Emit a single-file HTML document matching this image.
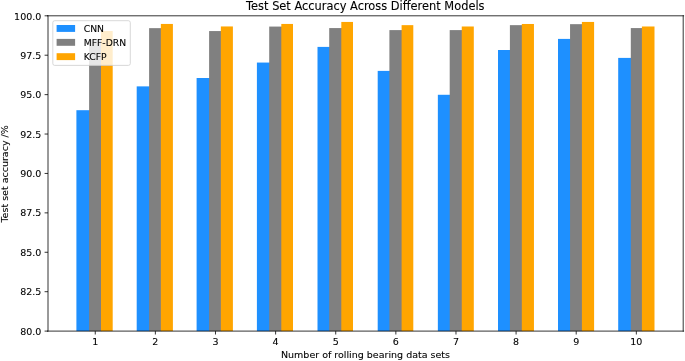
<!DOCTYPE html>
<html><head><meta charset="utf-8"><style>
html,body{margin:0;padding:0;background:#fff;}
body{width:685px;height:361px;overflow:hidden;}
svg{display:block;}
</style></head><body>
<svg width="685" height="361" viewBox="0 0 685 361">
<rect x="0" y="0" width="685" height="361" fill="#ffffff"/>
<rect x="76.40" y="110.20" width="13.70" height="220.90" fill="#1e90ff"/>
<rect x="136.70" y="86.38" width="13.40" height="244.72" fill="#1e90ff"/>
<rect x="196.60" y="78.00" width="13.50" height="253.10" fill="#1e90ff"/>
<rect x="256.90" y="62.56" width="13.30" height="268.54" fill="#1e90ff"/>
<rect x="317.50" y="46.90" width="12.70" height="284.20" fill="#1e90ff"/>
<rect x="377.70" y="70.90" width="12.70" height="260.20" fill="#1e90ff"/>
<rect x="437.85" y="94.78" width="12.85" height="236.32" fill="#1e90ff"/>
<rect x="498.00" y="50.00" width="12.90" height="281.10" fill="#1e90ff"/>
<rect x="558.00" y="38.90" width="13.05" height="292.20" fill="#1e90ff"/>
<rect x="618.20" y="57.90" width="13.60" height="273.20" fill="#1e90ff"/>
<rect x="89.10" y="39.40" width="12.90" height="291.70" fill="#808080"/>
<rect x="149.10" y="28.14" width="12.75" height="302.96" fill="#808080"/>
<rect x="209.10" y="31.06" width="12.75" height="300.04" fill="#808080"/>
<rect x="269.20" y="26.57" width="13.10" height="304.53" fill="#808080"/>
<rect x="329.20" y="28.07" width="13.10" height="303.03" fill="#808080"/>
<rect x="389.40" y="30.10" width="13.20" height="301.00" fill="#808080"/>
<rect x="449.70" y="30.10" width="13.05" height="301.00" fill="#808080"/>
<rect x="509.90" y="25.15" width="12.90" height="305.95" fill="#808080"/>
<rect x="570.05" y="24.16" width="12.85" height="306.94" fill="#808080"/>
<rect x="630.80" y="28.07" width="12.10" height="303.03" fill="#808080"/>
<rect x="101.00" y="31.00" width="11.70" height="300.10" fill="#ffa500"/>
<rect x="160.85" y="23.94" width="12.05" height="307.16" fill="#ffa500"/>
<rect x="220.85" y="26.45" width="12.05" height="304.65" fill="#ffa500"/>
<rect x="281.30" y="23.94" width="11.70" height="307.16" fill="#ffa500"/>
<rect x="341.30" y="21.94" width="11.70" height="309.16" fill="#ffa500"/>
<rect x="401.60" y="25.15" width="11.70" height="305.95" fill="#ffa500"/>
<rect x="461.75" y="26.49" width="12.05" height="304.61" fill="#ffa500"/>
<rect x="521.80" y="23.98" width="12.15" height="307.12" fill="#ffa500"/>
<rect x="581.90" y="21.94" width="12.20" height="309.16" fill="#ffa500"/>
<rect x="641.90" y="26.49" width="12.60" height="304.61" fill="#ffa500"/>
<path d="M48.00 331.10 V15.80 M683.20 331.10 V15.80 M47.60 331.10 H683.60 M47.60 15.80 H683.60" stroke="#000" stroke-width="0.8" fill="none" stroke-linecap="square"/>
<line x1="44.60" y1="331.10" x2="48.00" y2="331.10" stroke="#000" stroke-width="0.8"/>
<text x="41.3" y="334.70" text-anchor="end" font-family="DejaVu Sans, Liberation Sans, sans-serif" stroke="#000" stroke-width="0.2" stroke-opacity="0.45" font-size="9.5" fill="#000000">80.0</text>
<line x1="44.60" y1="291.69" x2="48.00" y2="291.69" stroke="#000" stroke-width="0.8"/>
<text x="41.3" y="295.29" text-anchor="end" font-family="DejaVu Sans, Liberation Sans, sans-serif" stroke="#000" stroke-width="0.2" stroke-opacity="0.45" font-size="9.5" fill="#000000">82.5</text>
<line x1="44.60" y1="252.28" x2="48.00" y2="252.28" stroke="#000" stroke-width="0.8"/>
<text x="41.3" y="255.88" text-anchor="end" font-family="DejaVu Sans, Liberation Sans, sans-serif" stroke="#000" stroke-width="0.2" stroke-opacity="0.45" font-size="9.5" fill="#000000">85.0</text>
<line x1="44.60" y1="212.86" x2="48.00" y2="212.86" stroke="#000" stroke-width="0.8"/>
<text x="41.3" y="216.46" text-anchor="end" font-family="DejaVu Sans, Liberation Sans, sans-serif" stroke="#000" stroke-width="0.2" stroke-opacity="0.45" font-size="9.5" fill="#000000">87.5</text>
<line x1="44.60" y1="173.45" x2="48.00" y2="173.45" stroke="#000" stroke-width="0.8"/>
<text x="41.3" y="177.05" text-anchor="end" font-family="DejaVu Sans, Liberation Sans, sans-serif" stroke="#000" stroke-width="0.2" stroke-opacity="0.45" font-size="9.5" fill="#000000">90.0</text>
<line x1="44.60" y1="134.04" x2="48.00" y2="134.04" stroke="#000" stroke-width="0.8"/>
<text x="41.3" y="137.64" text-anchor="end" font-family="DejaVu Sans, Liberation Sans, sans-serif" stroke="#000" stroke-width="0.2" stroke-opacity="0.45" font-size="9.5" fill="#000000">92.5</text>
<line x1="44.60" y1="94.63" x2="48.00" y2="94.63" stroke="#000" stroke-width="0.8"/>
<text x="41.3" y="98.23" text-anchor="end" font-family="DejaVu Sans, Liberation Sans, sans-serif" stroke="#000" stroke-width="0.2" stroke-opacity="0.45" font-size="9.5" fill="#000000">95.0</text>
<line x1="44.60" y1="55.21" x2="48.00" y2="55.21" stroke="#000" stroke-width="0.8"/>
<text x="41.3" y="58.81" text-anchor="end" font-family="DejaVu Sans, Liberation Sans, sans-serif" stroke="#000" stroke-width="0.2" stroke-opacity="0.45" font-size="9.5" fill="#000000">97.5</text>
<line x1="44.60" y1="15.80" x2="48.00" y2="15.80" stroke="#000" stroke-width="0.8"/>
<text x="41.3" y="20.20" text-anchor="end" font-family="DejaVu Sans, Liberation Sans, sans-serif" stroke="#000" stroke-width="0.2" stroke-opacity="0.45" font-size="9.5" fill="#000000">100.0</text>
<line x1="95.25" y1="331.10" x2="95.25" y2="334.50" stroke="#000" stroke-width="0.8"/>
<text x="95.25" y="344.9" text-anchor="middle" font-family="DejaVu Sans, Liberation Sans, sans-serif" stroke="#000" stroke-width="0.2" stroke-opacity="0.45" font-size="9.5" fill="#000000">1</text>
<line x1="155.37" y1="331.10" x2="155.37" y2="334.50" stroke="#000" stroke-width="0.8"/>
<text x="155.37" y="344.9" text-anchor="middle" font-family="DejaVu Sans, Liberation Sans, sans-serif" stroke="#000" stroke-width="0.2" stroke-opacity="0.45" font-size="9.5" fill="#000000">2</text>
<line x1="215.49" y1="331.10" x2="215.49" y2="334.50" stroke="#000" stroke-width="0.8"/>
<text x="215.49" y="344.9" text-anchor="middle" font-family="DejaVu Sans, Liberation Sans, sans-serif" stroke="#000" stroke-width="0.2" stroke-opacity="0.45" font-size="9.5" fill="#000000">3</text>
<line x1="275.61" y1="331.10" x2="275.61" y2="334.50" stroke="#000" stroke-width="0.8"/>
<text x="275.61" y="344.9" text-anchor="middle" font-family="DejaVu Sans, Liberation Sans, sans-serif" stroke="#000" stroke-width="0.2" stroke-opacity="0.45" font-size="9.5" fill="#000000">4</text>
<line x1="335.73" y1="331.10" x2="335.73" y2="334.50" stroke="#000" stroke-width="0.8"/>
<text x="335.73" y="344.9" text-anchor="middle" font-family="DejaVu Sans, Liberation Sans, sans-serif" stroke="#000" stroke-width="0.2" stroke-opacity="0.45" font-size="9.5" fill="#000000">5</text>
<line x1="395.85" y1="331.10" x2="395.85" y2="334.50" stroke="#000" stroke-width="0.8"/>
<text x="395.85" y="344.9" text-anchor="middle" font-family="DejaVu Sans, Liberation Sans, sans-serif" stroke="#000" stroke-width="0.2" stroke-opacity="0.45" font-size="9.5" fill="#000000">6</text>
<line x1="455.97" y1="331.10" x2="455.97" y2="334.50" stroke="#000" stroke-width="0.8"/>
<text x="455.97" y="344.9" text-anchor="middle" font-family="DejaVu Sans, Liberation Sans, sans-serif" stroke="#000" stroke-width="0.2" stroke-opacity="0.45" font-size="9.5" fill="#000000">7</text>
<line x1="516.09" y1="331.10" x2="516.09" y2="334.50" stroke="#000" stroke-width="0.8"/>
<text x="516.09" y="344.9" text-anchor="middle" font-family="DejaVu Sans, Liberation Sans, sans-serif" stroke="#000" stroke-width="0.2" stroke-opacity="0.45" font-size="9.5" fill="#000000">8</text>
<line x1="576.21" y1="331.10" x2="576.21" y2="334.50" stroke="#000" stroke-width="0.8"/>
<text x="576.21" y="344.9" text-anchor="middle" font-family="DejaVu Sans, Liberation Sans, sans-serif" stroke="#000" stroke-width="0.2" stroke-opacity="0.45" font-size="9.5" fill="#000000">9</text>
<line x1="636.33" y1="331.10" x2="636.33" y2="334.50" stroke="#000" stroke-width="0.8"/>
<text x="636.33" y="344.9" text-anchor="middle" font-family="DejaVu Sans, Liberation Sans, sans-serif" stroke="#000" stroke-width="0.2" stroke-opacity="0.45" font-size="9.5" fill="#000000">10</text>
<text x="365.3" y="9.5" text-anchor="middle" font-family="DejaVu Sans, Liberation Sans, sans-serif" stroke="#000" stroke-width="0.2" stroke-opacity="0.45" font-size="11.4" fill="#000000">Test Set Accuracy Across Different Models</text>
<text x="365.5" y="357.7" text-anchor="middle" font-family="DejaVu Sans, Liberation Sans, sans-serif" stroke="#000" stroke-width="0.2" stroke-opacity="0.45" font-size="9.5" fill="#000000">Number of rolling bearing data sets</text>
<text transform="translate(7.6 173.9) rotate(-90)" x="0" y="0" text-anchor="middle" font-family="DejaVu Sans, Liberation Sans, sans-serif" stroke="#000" stroke-width="0.2" stroke-opacity="0.45" font-size="9.5" fill="#000000">Test set accuracy /%</text>
<rect x="52.8" y="20.7" width="77.50" height="44.70" rx="1.9" ry="1.9" fill="#ffffff" fill-opacity="0.8" stroke="#cccccc" stroke-opacity="0.8" stroke-width="0.95"/>
<rect x="56.6" y="25.00" width="18.5" height="6.9" fill="#1e90ff"/>
<text x="83.7" y="31.70" font-family="DejaVu Sans, Liberation Sans, sans-serif" stroke="#000" stroke-width="0.2" stroke-opacity="0.45" font-size="9.25" fill="#000000">CNN</text>
<rect x="56.6" y="38.90" width="18.5" height="6.9" fill="#808080"/>
<text x="83.7" y="45.50" font-family="DejaVu Sans, Liberation Sans, sans-serif" stroke="#000" stroke-width="0.2" stroke-opacity="0.45" font-size="9.25" fill="#000000">MFF-DRN</text>
<rect x="56.6" y="53.20" width="18.5" height="6.9" fill="#ffa500"/>
<text x="83.7" y="59.50" font-family="DejaVu Sans, Liberation Sans, sans-serif" stroke="#000" stroke-width="0.2" stroke-opacity="0.45" font-size="9.25" fill="#000000">KCFP</text>
</svg>
</body></html>
